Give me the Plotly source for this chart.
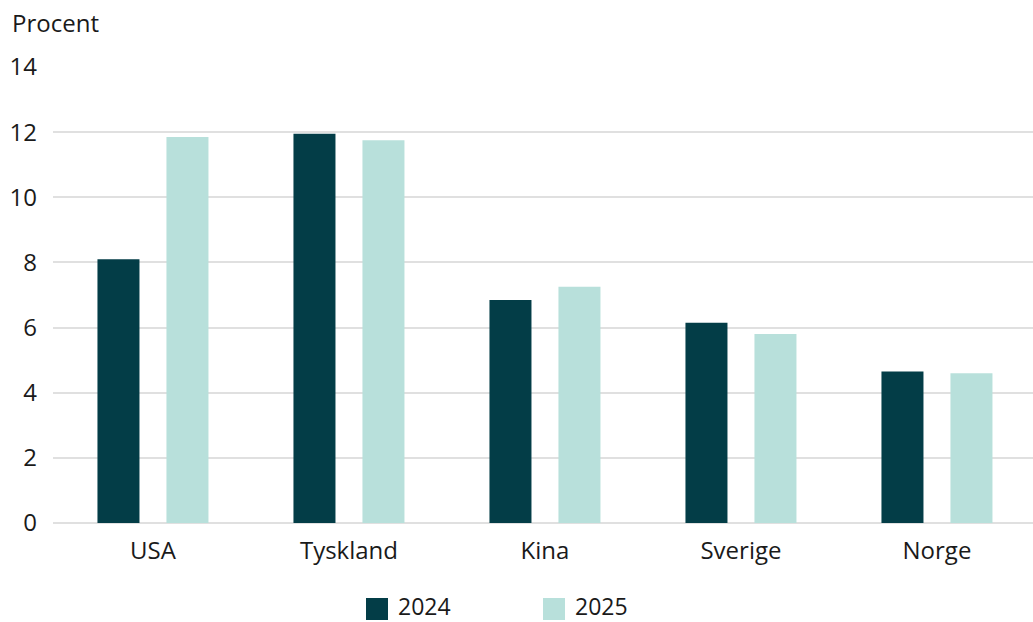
import plotly.graph_objects as go

# Data
countries = ["USA", "Tyskland", "Kina", "Sverige", "Norge"]
share_2024 = [8.1, 11.95, 6.85, 6.15, 4.65]
share_2025 = [11.85, 11.75, 7.25, 5.8, 4.6]
series_names = ["2024", "2025"]
y_ticks = [0, 2, 4, 6, 8, 10, 12, 14]

DARK = "#033d47"
LIGHT = "#b8e0db"
FONT = "Open Sans"
TEXT = "#1a1a1a"

W, H = 1033, 622
M_L, M_R, M_T, M_B = 53, 0, 67, 99
PW = W - M_L - M_R
PH = H - M_T - M_B


def px_x(px):
    return (px - M_L) / PW


def px_y(py):
    return (H - M_B - py) / PH


fig = go.Figure()
for name, vals, col in zip(series_names, [share_2024, share_2025], [DARK, LIGHT]):
    fig.add_trace(go.Bar(x=countries, y=vals, name=name, marker_color=col,
                         marker_line_width=0, showlegend=False))

# Custom legend with larger square swatches
legend_items = [(series_names[0], DARK, 366), (series_names[1], LIGHT, 543)]
shapes = []
annotations = []
for name, col, x0 in legend_items:
    shapes.append(dict(type="rect", xref="paper", yref="paper",
                       x0=px_x(x0), x1=px_x(x0 + 22), y0=px_y(598), y1=px_y(620),
                       fillcolor=col, line_width=0))
    annotations.append(dict(text=name, xref="paper", yref="paper",
                            x=px_x(x0 + 30), y=px_y(606), xanchor="left", yanchor="middle",
                            showarrow=False, font=dict(family=FONT, size=23, color=TEXT)))

annotations.append(dict(text="Procent", xref="paper", yref="paper",
                        x=px_x(10), y=px_y(23), xanchor="left", yanchor="middle",
                        showarrow=False, font=dict(family=FONT, size=24, color=TEXT)))

fig.update_layout(
    width=W, height=H,
    margin=dict(l=M_L, r=M_R, t=M_T, b=M_B),
    paper_bgcolor="white", plot_bgcolor="white",
    barmode="group", bargap=0.296, bargroupgap=0.391,
    font=dict(family=FONT, size=24, color=TEXT),
    shapes=shapes, annotations=annotations,
    xaxis=dict(range=[-0.51, 4.49], showgrid=False, showline=False, ticks="",
               ticklabelstandoff=11, tickfont=dict(size=24)),
    yaxis=dict(range=[0, 14], tickvals=y_ticks, showgrid=True,
               gridcolor="#e0e0e0", gridwidth=1.5, zeroline=True,
               zerolinecolor="#e0e0e0", zerolinewidth=1.5, showline=False,
               ticks="", ticklabelstandoff=15, tickfont=dict(size=24)),
)

fig.write_html("out.html")
